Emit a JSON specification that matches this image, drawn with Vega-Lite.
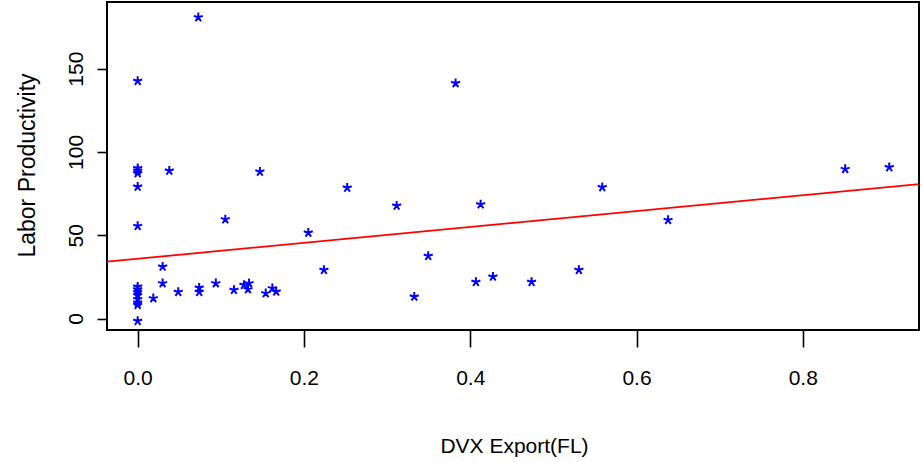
{
  "$schema": "https://vega.github.io/schema/vega-lite/v6.json",
  "width": 812,
  "height": 328,
  "autosize": "none",
  "padding": {"left": 107, "top": 2, "right": 3, "bottom": 132},
  "background": "white",
  "config": {
    "view": {"stroke": "black", "strokeWidth": 2},
    "axis": {"grid": false, "domain": false, "tickColor": "black", "tickWidth": 1.6, "labelColor": "black", "titleColor": "black", "titleFontWeight": "normal"}
  },
  "datasets": {
    "pts": [
      {"x": 0, "y": 142.6}, {"x": 0, "y": 90.2}, {"x": 0, "y": 88.7}, {"x": 0, "y": 87.2}, {"x": 0, "y": 79.1}, {"x": 0, "y": 55.5},
      {"x": 0, "y": 19.1}, {"x": 0, "y": 17.5}, {"x": 0, "y": 15.9}, {"x": 0, "y": 14.1}, {"x": 0, "y": 11.5}, {"x": 0, "y": 9.5}, {"x": 0, "y": 8.1}, {"x": 0, "y": -1.5},
      {"x": 0.0188, "y": 12.1}, {"x": 0.030, "y": 31.1}, {"x": 0.030, "y": 21.1}, {"x": 0.038, "y": 88.7}, {"x": 0.0488, "y": 15.9},
      {"x": 0.0729, "y": 180.8}, {"x": 0.074, "y": 18.5}, {"x": 0.074, "y": 15.9}, {"x": 0.094, "y": 21.1}, {"x": 0.1054, "y": 59.5},
      {"x": 0.1158, "y": 17.1}, {"x": 0.1278, "y": 20.1}, {"x": 0.134, "y": 21.1}, {"x": 0.1327, "y": 17.5}, {"x": 0.147, "y": 88.1},
      {"x": 0.154, "y": 15.1}, {"x": 0.162, "y": 18.1}, {"x": 0.1666, "y": 16.1}, {"x": 0.2052, "y": 51.5}, {"x": 0.224, "y": 29.1},
      {"x": 0.252, "y": 78.5}, {"x": 0.3115, "y": 67.7}, {"x": 0.3327, "y": 13.1}, {"x": 0.3495, "y": 37.5}, {"x": 0.3824, "y": 141.2},
      {"x": 0.4068, "y": 21.9}, {"x": 0.4125, "y": 68.5}, {"x": 0.4273, "y": 25.1}, {"x": 0.4738, "y": 21.9}, {"x": 0.5307, "y": 29.1},
      {"x": 0.5588, "y": 78.8}, {"x": 0.638, "y": 59.1}, {"x": 0.851, "y": 89.7}, {"x": 0.904, "y": 90.8}
    ],
    "fit": [
      {"x": -0.0369, "y": 34.1},
      {"x": 0.9398, "y": 80.7}
    ]
  },
  "layer": [
    {
      "data": {"name": "fit"},
      "mark": {"type": "line", "color": "#FF0000", "strokeWidth": 1.8, "clip": true},
      "encoding": {
        "x": {"field": "x", "type": "quantitative"},
        "y": {"field": "y", "type": "quantitative"}
      }
    },
    {
      "data": {"name": "pts"},
      "mark": {
        "type": "point",
        "shape": "M0,0L0,-1M0,0L0.951,-0.309M0,0L0.588,0.809M0,0L-0.588,0.809M0,0L-0.951,-0.309",
        "filled": false,
        "stroke": "#0000FF",
        "strokeWidth": 2,
        "size": 90,
        "opacity": 1
      },
      "encoding": {
        "x": {
          "field": "x", "type": "quantitative",
          "scale": {"domain": [-0.0369, 0.9398], "nice": false, "zero": false},
          "axis": {
            "values": [0, 0.2, 0.4, 0.6, 0.8], "format": ".1f", "tickSize": 17,
            "labelFont": "Liberation Sans", "labelFontSize": 21, "labelPadding": 20,
            "title": "DVX Export(FL)", "titleFont": "Liberation Sans", "titleFontSize": 21,
            "titleX": 407, "titleY": 116, "titleBaseline": "middle", "titleAlign": "center"
          }
        },
        "y": {
          "field": "y", "type": "quantitative",
          "scale": {"domain": [-6.9, 190], "nice": false, "zero": false},
          "axis": {
            "values": [0, 50, 100, 150], "tickSize": 10,
            "labelFont": "Liberation Sans", "labelFontSize": 21, "labelAngle": -90, "labelAlign": "center", "labelBaseline": "bottom", "labelPadding": 11,
            "title": "Labor Productivity", "titleFont": "Liberation Sans", "titleFontSize": 23,
            "titleAngle": -90, "titleX": -80, "titleY": 163, "titleBaseline": "middle", "titleAlign": "center"
          }
        }
      }
    }
  ]
}
